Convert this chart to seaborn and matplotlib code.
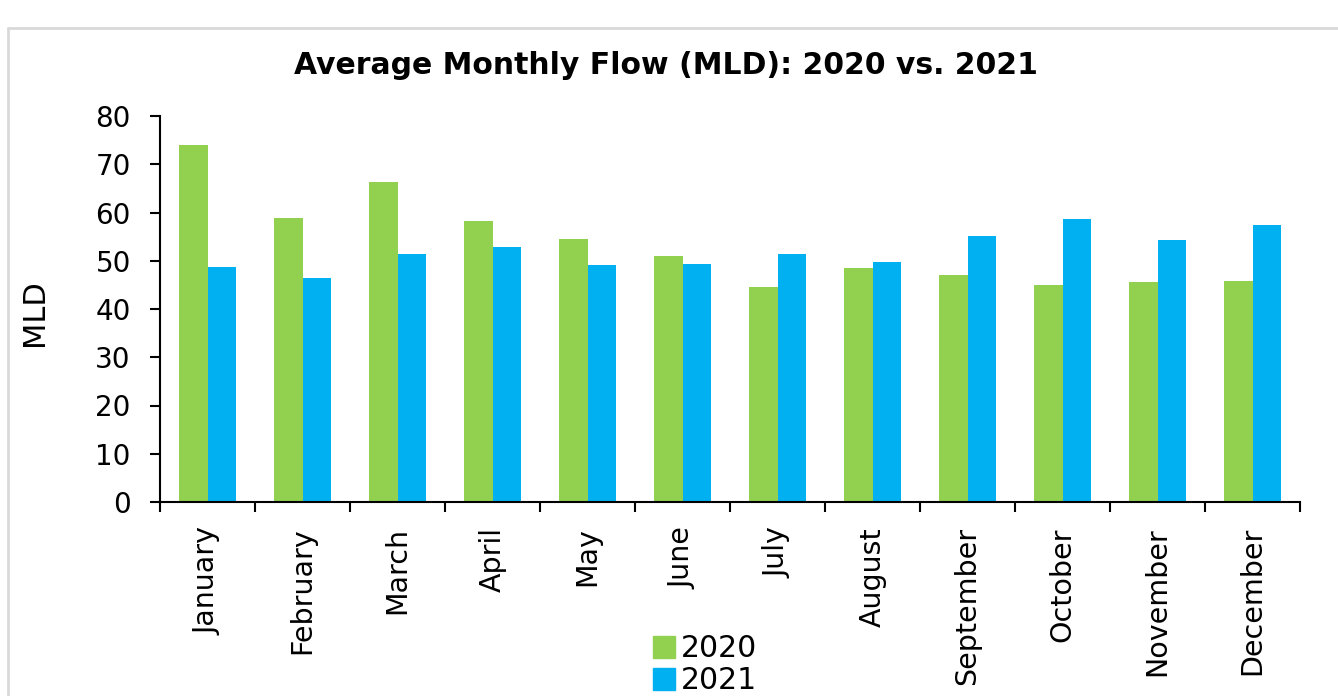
import numpy as np
import pandas as pd
import matplotlib
matplotlib.use("Agg")
import matplotlib.pyplot as plt
import seaborn as sns
from matplotlib.lines import Line2D

months = ["January", "February", "March", "April", "May", "June",
          "July", "August", "September", "October", "November", "December"]
flow_2020 = [74.0, 58.8, 66.3, 58.2, 54.5, 51.0, 44.5, 48.4, 47.0, 45.0, 45.6, 45.9]
flow_2021 = [48.8, 46.5, 51.3, 52.8, 49.1, 49.3, 51.4, 49.7, 55.1, 58.6, 54.2, 57.4]
years = ["2020", "2021"]
colors = {"2020": "#92D050", "2021": "#00B0F0"}

df = pd.DataFrame({
    "month": months * 2,
    "year": [years[0]] * 12 + [years[1]] * 12,
    "MLD": flow_2020 + flow_2021,
})

sns.set_style("white")
plt.rcParams["font.family"] = ["DejaVu Sans"]
plt.rcParams["text.color"] = "black"
plt.rcParams["axes.labelcolor"] = "black"
plt.rcParams["xtick.color"] = "black"
plt.rcParams["ytick.color"] = "black"

fig = plt.figure(figsize=(13.38, 6.96), dpi=100)
ax = fig.add_axes([160 / 1338, 1 - 502 / 696, 1140 / 1338, 386 / 696])

sns.barplot(data=df, x="month", y="MLD", hue="year", palette=colors,
            width=0.59, gap=0, linewidth=0, saturation=1, ax=ax)

ax.set_ylim(0, 80)
ax.set_xlim(-0.5, 11.5)
ax.set_yticks(range(0, 81, 10))
ax.tick_params(axis="y", labelsize=20, length=7, width=1.5, pad=14, direction="out", left=True)
ax.set_xticks(range(12))
ax.set_xticklabels(months, rotation=90)
ax.tick_params(axis="x", which="major", labelsize=20.5, length=0, pad=18)
ax.set_xticks(np.arange(-0.5, 12, 1), minor=True)
ax.tick_params(axis="x", which="minor", length=7, width=1.5, direction="out", bottom=True)

for side in ["top", "right"]:
    ax.spines[side].set_visible(False)
for side in ["left", "bottom"]:
    ax.spines[side].set_color("black")
    ax.spines[side].set_linewidth(1.5)

ax.set_xlabel("")
ax.set_ylabel("MLD", fontsize=22)
ax.yaxis.set_label_coords(-0.097, 0.49)

ax.legend_.remove()
handles = [plt.Rectangle((0, 0), 1, 1, color=colors[y]) for y in years]
fig.legend(handles, years, loc="center", bbox_to_anchor=(0.527, 0.045),
           frameon=False, fontsize=21.5, handlelength=0.75, handleheight=0.75,
           handletextpad=0.2, labelspacing=0.1, borderpad=0)

fig.text(0.498, 1 - 65 / 696, "Average Monthly Flow (MLD): 2020 vs. 2021",
         ha="center", va="center", fontsize=21.5, fontweight="bold")

# light frame around the chart area
fig.add_artist(Line2D([8 / 1338, 1], [1 - 28 / 696] * 2, color="#D9D9D9", lw=2))
fig.add_artist(Line2D([8 / 1338] * 2, [0, 1 - 28 / 696], color="#D9D9D9", lw=2))

fig.savefig("out.png", dpi=100)
